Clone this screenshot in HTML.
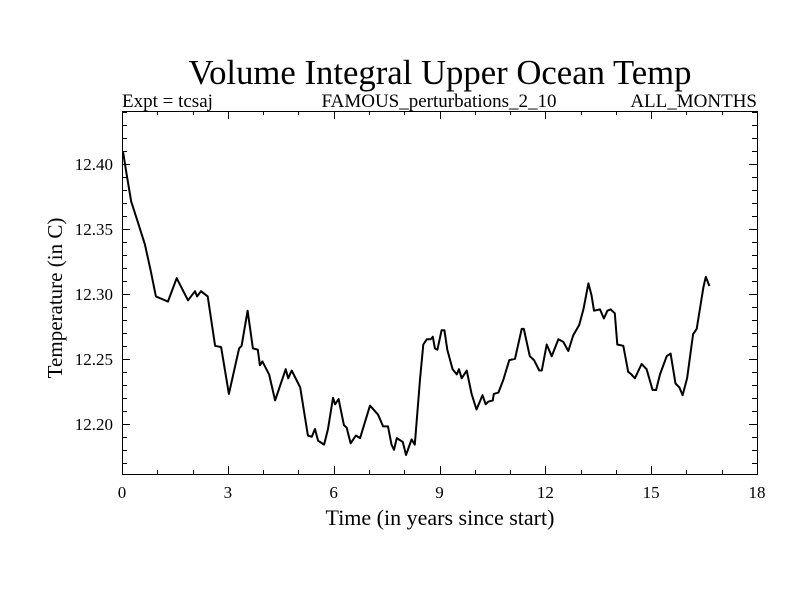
<!DOCTYPE html>
<html><head><meta charset="utf-8"><style>
body{margin:0;background:#fff;width:800px;height:600px;overflow:hidden}
svg text{font-family:"Liberation Serif",serif;fill:#000}
</style></head><body>
<svg id="chart" width="800" height="600" xmlns="http://www.w3.org/2000/svg">
<rect width="800" height="600" fill="#fff"/>
<text x="440" y="84" font-size="34.7" text-anchor="middle">Volume Integral Upper Ocean Temp</text>
<text x="122" y="107" font-size="19">Expt = tcsaj</text>
<text x="439" y="107" font-size="19" text-anchor="middle">FAMOUS_perturbations_2_10</text>
<text x="757" y="107" font-size="19" text-anchor="end">ALL_MONTHS</text>
<text x="440" y="525" font-size="22" text-anchor="middle">Time (in years since start)</text>
<text transform="translate(62,298) rotate(-90)" font-size="21" text-anchor="middle">Temperature (in C)</text>
<g id="axes"></g>
<path id="series" fill="none" stroke="#000" stroke-width="2" stroke-linejoin="round"/>
</svg>
<script>
const years=[0.03,0.13,0.26,0.45,0.65,0.82,0.96,1.13,1.30,1.55,1.87,2.07,2.13,2.24,2.43,2.64,2.81,3.03,3.32,3.39,3.56,3.71,3.85,3.91,3.98,4.17,4.34,4.64,4.71,4.81,5.05,5.27,5.38,5.47,5.56,5.73,5.84,5.98,6.04,6.14,6.29,6.37,6.48,6.63,6.75,7.03,7.26,7.40,7.54,7.64,7.71,7.79,7.96,8.05,8.21,8.30,8.45,8.54,8.64,8.75,8.81,8.87,8.94,9.06,9.14,9.22,9.37,9.49,9.55,9.63,9.77,9.91,10.05,10.22,10.31,10.38,10.51,10.54,10.67,10.81,10.98,11.14,11.33,11.39,11.56,11.68,11.83,11.90,12.04,12.18,12.37,12.51,12.65,12.79,12.96,13.08,13.22,13.31,13.38,13.55,13.66,13.76,13.85,13.97,14.04,14.21,14.35,14.44,14.54,14.73,14.87,15.04,15.14,15.25,15.44,15.55,15.69,15.80,15.89,16.02,16.19,16.29,16.48,16.55,16.65];
const temps=[12.409,12.392,12.371,12.355,12.338,12.317,12.298,12.296,12.294,12.312,12.295,12.302,12.298,12.302,12.298,12.260,12.259,12.223,12.258,12.260,12.287,12.258,12.257,12.245,12.248,12.238,12.218,12.242,12.235,12.241,12.228,12.191,12.190,12.196,12.187,12.184,12.196,12.220,12.215,12.219,12.199,12.197,12.185,12.191,12.189,12.214,12.207,12.198,12.198,12.184,12.180,12.189,12.186,12.176,12.188,12.184,12.235,12.261,12.265,12.265,12.267,12.258,12.257,12.272,12.272,12.257,12.242,12.238,12.242,12.235,12.241,12.223,12.211,12.222,12.215,12.217,12.218,12.223,12.224,12.234,12.249,12.250,12.273,12.273,12.252,12.249,12.241,12.241,12.261,12.252,12.265,12.263,12.256,12.268,12.276,12.288,12.308,12.299,12.287,12.288,12.281,12.287,12.288,12.285,12.261,12.260,12.240,12.238,12.235,12.246,12.242,12.226,12.226,12.238,12.252,12.254,12.231,12.228,12.222,12.235,12.269,12.273,12.305,12.313,12.306];
const xTickLabels=[0,3,6,9,12,15,18];
const yTickLabels=["12.20","12.25","12.30","12.35","12.40"];
const L=122,R=757,T=111,B=474,X0=0,X1=18,Y0=12.1614,Y1=12.4406;
function sx(t){return L+(t-X0)/(X1-X0)*(R-L);}
function sy(v){return B-(v-Y0)/(Y1-Y0)*(B-T);}
const NS="http://www.w3.org/2000/svg";
const g=document.getElementById('axes');
function ln(x1,y1,x2,y2,name){const e=document.createElementNS(NS,'line');e.setAttribute('x1',x1);e.setAttribute('y1',y1);e.setAttribute('x2',x2);e.setAttribute('y2',y2);e.setAttribute('stroke','#000');e.setAttribute('stroke-width','1');


g.appendChild(e);}
const frame=document.createElementNS(NS,'rect');
frame.setAttribute('x',L+0.5);frame.setAttribute('y',T+0.5);frame.setAttribute('width',R-L);frame.setAttribute('height',B-T);frame.setAttribute('fill','none');frame.setAttribute('stroke','#000');


g.appendChild(frame);
for(let t=0;t<=18;t++){const x=Math.round(sx(t))+0.5;const len=(t%3===0)?8:4;
ln(x,B,x,B-len,'x-tick');ln(x,T,x,T+len,'x-tick-top');}
for(let i=0;i<=28;i++){const v=12.17+i*0.01;if(v>Y1)break;const y=Math.round(sy(v))+0.5;const major=Math.abs(Math.round(v*100)%5)===0;const len=major?8:5;
ln(L,y,L+len,y,'y-tick');ln(R,y,R-len,y,'y-tick-right');}
xTickLabels.forEach(t=>{const e=document.createElementNS(NS,'text');e.setAttribute('x',sx(t));e.setAttribute('y',B+24);e.setAttribute('font-size','17');e.setAttribute('text-anchor','middle');e.textContent=t;


g.appendChild(e);});
yTickLabels.forEach(s=>{const e=document.createElementNS(NS,'text');e.setAttribute('x',113);e.setAttribute('y',sy(parseFloat(s))+6);e.setAttribute('font-size','17');e.setAttribute('text-anchor','end');e.textContent=s;


g.appendChild(e);});
let d='';years.forEach((t,i)=>{d+=(i?'L':'M')+sx(t).toFixed(1)+','+sy(temps[i]).toFixed(1);});
document.getElementById('series').setAttribute('d',d);
</script>
</body></html>
